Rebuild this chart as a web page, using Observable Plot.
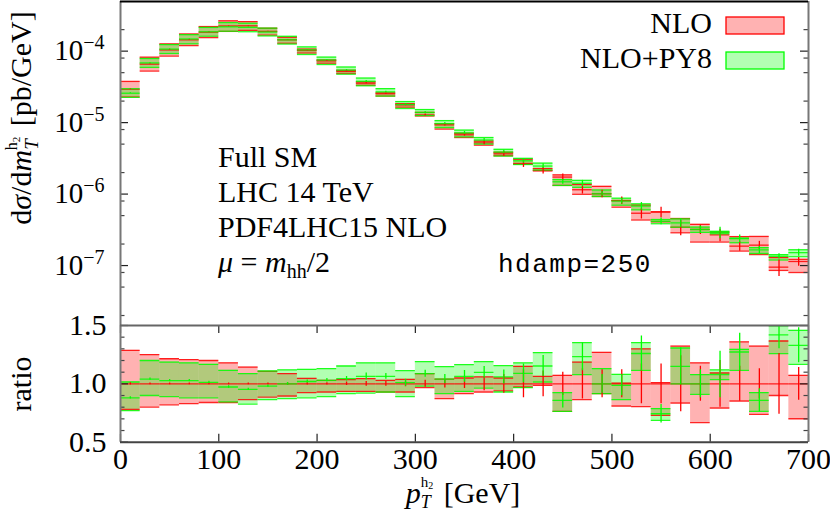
<!DOCTYPE html>
<html>
<head>
<meta charset="utf-8">
<script src="https://cdn.jsdelivr.net/npm/d3@7"></script>
<script src="https://cdn.jsdelivr.net/npm/@observablehq/plot@0.6"></script>
<style>
  body { margin: 0; background: #fff; }
  #wrap { position: relative; width: 830px; height: 514px; overflow: hidden; background: #fff; }
  #top, #bot { position: absolute; left: 0; }
  #top { top: 0; }
  #bot { top: 324px; }
  #overlay { position: absolute; left: 0; top: 0; pointer-events: none; font-family: "Liberation Serif", serif; }
</style>
</head>
<body>
<div id="wrap">
  <div id="top"></div>
  <div id="bot"></div>
  <svg id="overlay" width="830" height="514">
    <text x="218" y="167" font-size="30">Full SM</text>
    <text x="218" y="202" font-size="30">LHC 14 TeV</text>
    <text x="218" y="237" font-size="30">PDF4LHC15 NLO</text>
    <text x="218" y="272" font-size="30"><tspan font-style="italic">μ</tspan> = <tspan font-style="italic">m</tspan><tspan font-size="20" dy="6">hh</tspan><tspan dy="-6">/2</tspan></text>
    <text x="498" y="272" font-size="26" letter-spacing="1.5" font-family="Liberation Mono, monospace">hdamp=250</text>
    <g id="legend"></g>
    <text transform="translate(31,118) rotate(-90)" text-anchor="middle" font-size="30">d<tspan font-style="italic">σ</tspan>/d<tspan font-style="italic">m</tspan><tspan font-size="19" font-style="italic" dy="7">T</tspan><tspan font-size="16" dx="-11" dy="-21">h</tspan><tspan font-size="11" dy="3">2</tspan><tspan dy="11" dx="3"> [pb/GeV]</tspan></text>
    <text transform="translate(31,384) rotate(-90)" text-anchor="middle" font-size="30">ratio</text>
    <text x="463" y="503" text-anchor="middle" font-size="30"><tspan font-style="italic">p</tspan><tspan font-size="18" font-style="italic" dy="5">T</tspan><tspan font-size="15" dx="-10" dy="-21">h</tspan><tspan font-size="10" dy="2">2</tspan><tspan dy="14" dx="3"> [GeV]</tspan></text>
  </svg>
</div>
<script>
// ---------- data ----------
const binLow = [0,20,40,60,80,100,120,140,160,180,200,220,240,260,280,300,320,340,360,380,400,420,440,460,480,500,520,540,560,580,600,620,640,660,680];
const binWidth = 20;
// NLO central value, pb/GeV
const nloCentral = [2.93e-5,6.58e-5,1.04e-4,1.44e-4,1.84e-4,2.25e-4,2.26e-4,1.89e-4,1.44e-4,1.02e-4,7.3e-5,5.2e-5,3.56e-5,2.53e-5,1.77e-5,1.28e-5,9.3e-6,6.75e-6,5.2e-6,3.66e-6,2.68e-6,2.14e-6,1.73e-6,1.15e-6,1.01e-6,8.1e-7,5.4e-7,5.6e-7,3.44e-7,3.2e-7,2.69e-7,1.87e-7,1.93e-7,9.5e-8,1.14e-7];
// NLO scale band, relative to NLO central
const nloUp   = [1.287,1.25,1.215,1.207,1.20,1.18,1.144,1.107,1.087,1.047,1.03,1.036,1.044,1.03,1.039,1.087,1.04,1.05,1.059,1.05,1.15,1.064,1.073,1.187,1.27,1.007,1.30,1.01,1.324,1.179,1.093,1.359,1.324,1.367,1.073];
const nloDown = [0.78,0.80,0.82,0.83,0.84,0.84,0.864,0.887,0.896,0.924,0.93,0.936,0.936,0.93,0.93,0.967,0.873,0.916,0.93,0.94,0.973,0.987,0.764,0.864,0.916,0.81,0.804,0.73,0.836,0.667,0.793,0.853,0.738,0.90,0.701];
const nloStat = [0.01,0.008,0.008,0.008,0.008,0.008,0.008,0.008,0.01,0.01,0.01,0.015,0.02,0.02,0.025,0.03,0.035,0.04,0.06,0.08,0.12,0.11,0.10,0.13,0.12,0.12,0.17,0.17,0.24,0.15,0.2,0.15,0.13,0.26,0.14];
// NLO+PY8 relative to NLO central
const py8Ratio = [0.88,1.04,1.027,1.027,1.013,0.973,0.953,0.98,1.0,1.02,1.03,1.044,1.064,1.064,1.01,1.087,1.041,1.064,1.099,1.059,1.09,1.153,0.859,1.233,1.0,0.987,1.26,0.744,1.15,1.0,1.08,1.273,0.859,1.42,1.33];
const py8Up    = [1.016,1.20,1.187,1.18,1.167,1.116,1.087,1.11,1.12,1.124,1.13,1.153,1.18,1.18,1.113,1.19,1.147,1.164,1.19,1.156,1.18,1.267,0.924,1.353,1.13,1.081,1.353,0.787,1.307,1.079,1.12,1.296,0.924,1.496,1.459];
const py8Down  = [0.77,0.90,0.89,0.88,0.88,0.845,0.827,0.864,0.873,0.88,0.89,0.916,0.92,0.93,0.89,0.98,0.916,0.936,0.964,0.93,0.967,1.016,0.764,1.079,0.916,0.864,1.116,0.687,1.0,0.91,1.036,1.116,0.764,1.259,1.167];
const py8Stat  = [0.01,0.01,0.01,0.01,0.01,0.01,0.01,0.01,0.012,0.012,0.015,0.02,0.03,0.025,0.03,0.03,0.04,0.05,0.05,0.06,0.08,0.09,0.065,0.12,0.08,0.09,0.15,0.08,0.16,0.12,0.2,0.16,0.1,0.12,0.15];
const seriesNames = ["NLO", "NLO+PY8"];
const yDecades = [-4, -5, -6, -7];
const ratioTicks = [0.5, 1.0, 1.5];
const xTicks = [0, 100, 200, 300, 400, 500, 600, 700];

// ---------- styling ----------
const RED = "#ff0000", GREEN = "#00ff00";
const seriesColors = [RED, GREEN];
const FONT = "Liberation Serif";
const xDomain = [0, 700];
const yTopDomain = [1.45e-8, 4.95e-4];
const ratioDomain = [0.5, 1.5];
const plotLeft = 120, plotRight = 22;
const pxPerX = (830 - plotLeft - plotRight) / (xDomain[1] - xDomain[0]);
const majLen = 8 / pxPerX, minLen = 4.5 / pxPerX;

const rows = binLow.map((x0, i) => ({
  x1: x0, x2: x0 + binWidth, xc: x0 + binWidth / 2,
  c: nloCentral[i], nUp: nloUp[i], nDn: nloDown[i], nSt: nloStat[i],
  pC: py8Ratio[i], pUp: py8Up[i], pDn: py8Down[i], pSt: py8Stat[i]
}));

function bandMarks(k) {
  const line = (f, color) => Plot.ruleY(rows, {x1: "x1", x2: "x2", y: d => k(d) * f(d), stroke: color, strokeWidth: 1.3, strokeOpacity: 0.85, clip: true});
  return [
    Plot.rect(rows, {x1: "x1", x2: "x2", y1: d => k(d) * d.nDn, y2: d => k(d) * d.nUp, fill: RED, fillOpacity: 0.3, clip: true}),
    Plot.rect(rows, {x1: "x1", x2: "x2", y1: d => k(d) * d.pDn, y2: d => k(d) * d.pUp, fill: GREEN, fillOpacity: 0.3, clip: true}),
    line(d => d.nDn, RED), line(d => d.nUp, RED), line(d => 1, RED),
    line(d => d.pDn, GREEN), line(d => d.pUp, GREEN), line(d => d.pC, GREEN),
    Plot.ruleX(rows, {x: "xc", y1: d => k(d) * (1 - d.nSt), y2: d => k(d) * (1 + d.nSt), stroke: RED, strokeWidth: 1.3, clip: true}),
    Plot.ruleX(rows, {x: "xc", y1: d => k(d) * (d.pC - d.pSt), y2: d => k(d) * (d.pC + d.pSt), stroke: GREEN, strokeWidth: 1.3, clip: true})
  ];
}

function sideTicks(vals, len, color) {
  return [
    Plot.ruleY(vals, {x1: xDomain[0], x2: xDomain[0] + len, stroke: color, strokeWidth: 1.2}),
    Plot.ruleY(vals, {x1: xDomain[1] - len, x2: xDomain[1], stroke: color, strokeWidth: 1.2})
  ];
}

// ---------- top panel ----------
const majorTop = yDecades.map(e => Math.pow(10, e));
const minorTop = [];
for (let e = -9; e <= -3; e++) for (const m of [2, 5, 8]) {
  const v = m * Math.pow(10, e);
  if (v > yTopDomain[0] && v < yTopDomain[1]) minorTop.push(v);
}
const topPlot = Plot.plot({
  width: 830, height: 326,
  marginLeft: plotLeft, marginRight: plotRight, marginTop: 1, marginBottom: 1,
  x: {domain: xDomain, axis: null},
  y: {type: "log", domain: yTopDomain},
  style: {fontFamily: FONT, fontSize: "30px", overflow: "visible", background: "transparent", color: "#000"},
  marks: [
    ...bandMarks(d => d.c),
    ...sideTicks(majorTop, majLen, "#222"),
    ...sideTicks(minorTop, minLen, "#444"),
    Plot.ruleX([xDomain[0], xDomain[1]], {stroke: "#777", strokeWidth: 2}),
    Plot.ruleY([yTopDomain[1]], {stroke: "#000", strokeWidth: 2}),
    Plot.axisY({ticks: majorTop, tickSize: 0, tickPadding: 16, fontSize: 29, label: null,
      tickFormat: d => "10^" + Math.round(Math.log10(d))})
  ]
});
document.getElementById("top").appendChild(topPlot);
d3.select(topPlot).selectAll("text").each(function () {
  const t = this.textContent;
  if (!t.startsWith("10^")) return;
  const exp = t.slice(3).replace("-", "−");
  const sel = d3.select(this);
  sel.text(null);
  sel.append("tspan").text("10");
  sel.append("tspan").attr("dy", "-11").attr("font-size", "20").text(exp);
});

// ---------- ratio panel ----------
const ratioMinor = d3.range(6, 15).map(v => v / 10).filter(v => Math.abs(v - 1) > 1e-9);
const vLen = 8 * (ratioDomain[1] - ratioDomain[0]) / 116.7;
const botPlot = Plot.plot({
  width: 830, height: 190,
  marginLeft: plotLeft, marginRight: plotRight, marginTop: 1, marginBottom: 72.3,
  x: {domain: xDomain},
  y: {domain: ratioDomain},
  style: {fontFamily: FONT, fontSize: "30px", overflow: "visible", background: "transparent", color: "#000"},
  marks: [
    ...bandMarks(() => 1),
    ...sideTicks(ratioTicks, majLen, "#222"),
    ...sideTicks(ratioMinor, minLen, "#444"),
    Plot.ruleX(xTicks, {y1: ratioDomain[0], y2: ratioDomain[0] + vLen, stroke: "#222", strokeWidth: 1.2}),
    Plot.ruleX(xTicks, {y1: ratioDomain[1] - vLen, y2: ratioDomain[1], stroke: "#222", strokeWidth: 1.2}),
    Plot.ruleX([xDomain[0], xDomain[1]], {stroke: "#777", strokeWidth: 2}),
    Plot.ruleY([ratioDomain[1]], {stroke: "#666", strokeWidth: 2}),
    Plot.ruleY([ratioDomain[0]], {stroke: "#444", strokeWidth: 2}),
    Plot.axisY({ticks: ratioTicks, tickSize: 0, tickPadding: 14, fontSize: 30, label: null, tickFormat: d3.format(".1f")}),
    Plot.axisX({ticks: xTicks, tickSize: 0, tickPadding: 5, fontSize: 30, label: null, tickFormat: d3.format("d")})
  ]
});
document.getElementById("bot").appendChild(botPlot);

// ---------- legend ----------
const leg = d3.select("#legend");
seriesNames.forEach((name, i) => {
  const yb = 33 + i * 35;
  leg.append("text").attr("x", 712).attr("y", yb).attr("text-anchor", "end").attr("font-size", 30).text(name);
  leg.append("rect").attr("x", 726).attr("y", yb - 16).attr("width", 58).attr("height", 17)
    .attr("fill", seriesColors[i]).attr("fill-opacity", 0.3)
    .attr("stroke", seriesColors[i]).attr("stroke-width", 1.3);
});
</script>
</body>
</html>
